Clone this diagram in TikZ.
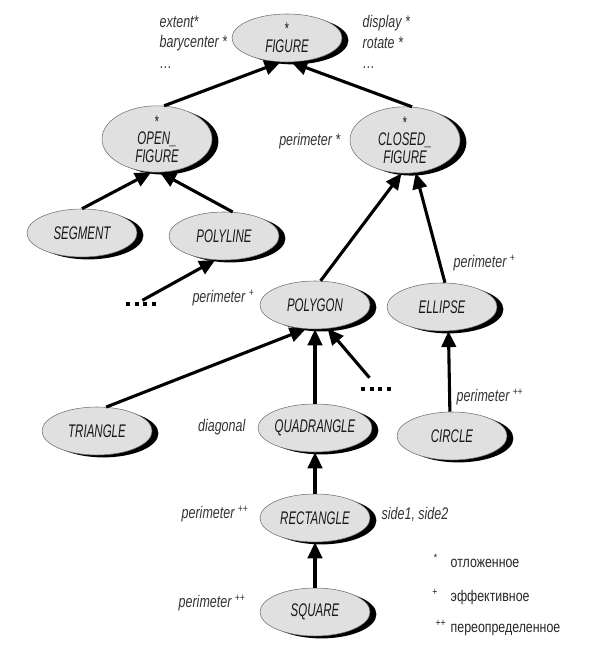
\documentclass[tikz,border=0pt]{standalone}
\usepackage{fontspec}
\setmainfont{Liberation Sans}[FakeStretch=0.8]
\newfontfamily\classfont{Liberation Sans}[FakeStretch=0.63]
\newfontfamily\featfont{Liberation Sans}[FakeStretch=0.74]
\usetikzlibrary{arrows.meta,shapes.geometric,shadows,positioning}
\newcommand{\abst}{{\upshape\fontsize{12}{12}\selectfont *}}
\newcommand{\moredots}{\rule{2.8pt}{2.8pt}\hspace{3.2pt}\rule{2.8pt}{2.8pt}\hspace{3.2pt}\rule{2.8pt}{2.8pt}\hspace{3.2pt}\rule{2.8pt}{2.8pt}}

\begin{document}
\begin{tikzpicture}[>={Triangle[length=4mm,width=3.6mm]},
		cls/.style={ellipse, draw=black!55, line width=0.4pt, fill=black!12, minimum width=2.75cm, minimum height=1.2cm, inner sep=0pt, align=center, text=black!90, font=\classfont\itshape\fontsize{13}{12.5}\selectfont, drop shadow={shadow xshift=1.6mm, shadow yshift=-0.6mm, fill=black, opacity=1}},
		feat/.style={inner sep=1pt, text=black!80, font=\featfont\itshape\fontsize{12}{14.5}\selectfont},
		inh/.style={->, line width=2.2pt},
		legend/.style={anchor=west, inner sep=1pt, text=black!85, font=\fontsize{11}{13}\selectfont}]
		\useasboundingbox (0,0) rectangle (14.825,16.225);
		%\draw [help lines] (0,0) grid (14,16);
		% Classi
		\node [cls] (figure) at (7.175,15.275) {\abst\\[0pt]FIGURE};
		\node [cls] (open) at (3.925,12.75) {\abst\\[0pt]OPEN\_\\[0pt]FIGURE};
		\node [cls] (closed) at (10.125,12.725) {\abst\\[0pt]CLOSED\_\\[0pt]FIGURE};
		\node [cls] (segment) at (2.05,10.4) {SEGMENT};
		\node [cls] (polyline) at (5.6,10.325) {POLYLINE};
		\node [cls] (polygon) at (7.875,8.6) {POLYGON};
		\node [cls] (ellipse) at (11.05,8.55) {ELLIPSE};
		\node [cls] (triangle) at (2.425,5.45) {TRIANGLE};
		\node [cls] (quad) at (7.875,5.525) {QUADRANGLE};
		\node [cls] (circle) at (11.3,5.325) {CIRCLE};
		\node [cls] (rect) at (7.875,3.275) {RECTANGLE};
		\node [cls] (square) at (7.875,0.925) {SQUARE};
		\node [inner sep=1pt] (more1) at (3.525,8.625) {\moredots};
		\node [inner sep=1pt] (more2) at (9.4,6.5) {\moredots};
		% Ereditarieta
		\draw [inh] (open.78) -- (figure.255);
		\draw [inh] (closed.78) -- (figure.280);
		\draw [inh] (segment.north) -- (open.260);
		\draw [inh] (polyline.70) -- (open.275);
		\draw [inh] (more1.70) -- (polyline.250);
		\draw [inh] (polygon.77) -- (closed.264);
		\draw [inh] (ellipse.83) -- (closed.288);
		\draw [inh] (triangle.69) -- (polygon.249);
		\draw [inh] (quad.north) -- (polygon.south);
		\draw [inh, shorten <=0.25cm] (more2.north) -- (polygon.298);
		\draw [inh] (circle.95) -- (ellipse.285);
		\draw [inh] (rect.north) -- (quad.south);
		\draw [inh] (square.north) -- (rect.south);
		% Caratteristiche
		\node [feat, anchor=west, align=left] (featL) at (3.95,15.175) {extent*\\barycenter *\\\ldots};
		\node [feat, anchor=west, align=left] (featR) at (9.025,15.175) {display *\\rotate *\\\ldots};
		\node [feat, anchor=east] (perC) at (8.55,12.7) {perimeter *};
		\node [feat, anchor=east] (perP) at (6.4,8.775) {perimeter \textsuperscript{+}};
		\node [feat, anchor=west] (perE) at (11.3,9.65) {perimeter \textsuperscript{+}};
		\node [feat, anchor=west] (perCi) at (11.375,6.3) {perimeter \textsuperscript{++}};
		\node [feat, anchor=east] (diag) at (6.175,5.55) {diagonal};
		\node [feat, anchor=east] (perR) at (6.25,3.375) {perimeter \textsuperscript{++}};
		\node [feat, anchor=west] (sides) at (9.5,3.375) {side1, side2};
		\node [feat, anchor=east] (perS) at (6.175,1.15) {perimeter \textsuperscript{++}};
		% Legenda
		\node [legend] (leg1) at (11.225,2.2) {\llap{\textsuperscript{*}\hspace{9pt}}отложенное};
		\node [legend] (leg2) at (11.225,1.3) {\llap{\textsuperscript{+}\hspace{9pt}}эффективное};
		\node [legend] (leg3) at (11.225,0.525) {\llap{\textsuperscript{++}\hspace{3pt}}переопределенное};
	\end{tikzpicture}
\end{document}
